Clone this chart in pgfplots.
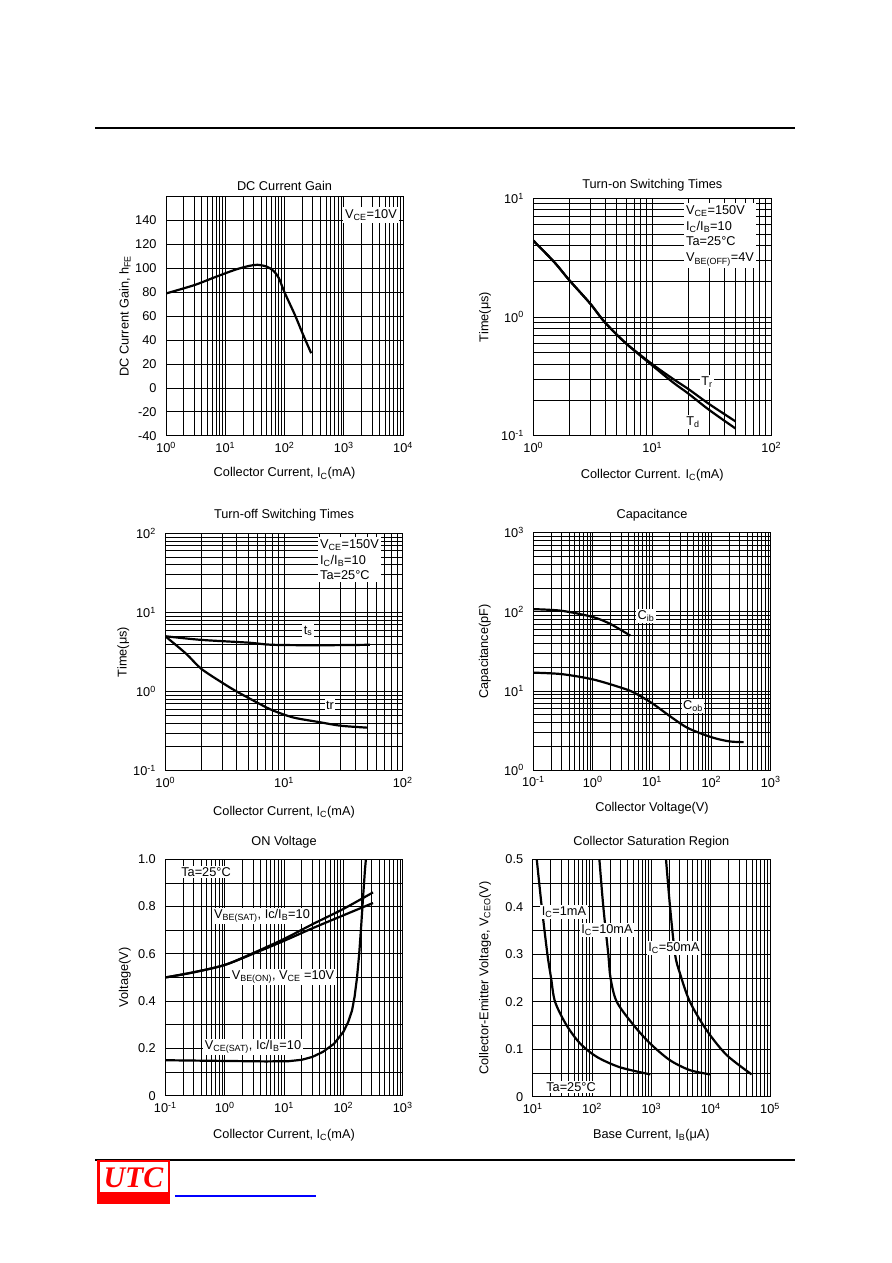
\documentclass[border=0pt]{standalone}
\usepackage{fontspec}
\setmainfont{Liberation Sans}
\newfontfamily\serifit{Liberation Serif}
\usepackage{pgfplots}
\pgfplotsset{compat=1.18}
\newcommand\lf{\fontsize{12.8}{14}\selectfont}
\newcommand\tf{\fontsize{12.8}{14}\selectfont}
\newcommand\sub[1]{\textsubscript{#1}}
\newcommand\sups[1]{\textsuperscript{#1}}
\pgfplotsset{
  every axis title shift=0pt,
  ds/.style={
    scale only axis, anchor=north west, width=237bp, height=237bp,
    grid=both,
    major grid style={black, line width=0.75bp},
    minor grid style={black, line width=0.75bp},
    axis line style={black, line width=0.9bp},
    major tick length=0pt, minor tick length=0pt,
    tick label style={font=\tf},
    xticklabel style={yshift=-3bp},
    yticklabel style={xshift=-6bp},
    label style={font=\lf},
    title style={font=\lf, anchor=center},
    every axis plot post/.append style={black, line width=2.2bp, mark=none},
    /pgf/number format/assume math mode=true,
    clip=true,
  }
}
\begin{document}
\begin{tikzpicture}[x=1bp,y=1bp]
\useasboundingbox[fill=white] (0,0) rectangle (892,1263);
% header rule
\draw[line width=2bp] (95,1263-128) -- (795,1263-128);

%================ DC Current Gain
\begin{axis}[ds, at={(166bp,1066.3bp)}, width=237bp, height=239bp,
  xmode=log, xmin=1, xmax=10000,
  ymin=-40, ymax=160,
  xtick={1,10,100,1000,10000},
  xticklabels={10\sups{0},10\sups{1},10\sups{2},10\sups{3},10\sups{4}},
  ytick={-40,-20,0,20,40,60,80,100,120,140,160},
  yticklabels={-40,-20,0,20,40,60,80,100,120,140,{}},
  minor y tick num=0,
  title={DC Current Gain}, title style={at={(axis description cs:0.5,1.046)}},
  xlabel={Collector Current, I\sub{C}(mA)}, xlabel style={at={(axis description cs:0.5,-0.159)},anchor=center},
  ylabel={DC Current Gain, h\sub{FE}}, ylabel style={at={(axis description cs:-0.173,0.5)},anchor=center},
]
\addplot[smooth] coordinates {(1,79) (3,86) (7,93) (15,99) (25,102) (35,103) (50,101.5) (65,98) (80,92) (100,80) (150,61) (200,46) (282,29)};
\end{axis}
\node[fill=white, inner sep=2bp, font=\lf] at (371,1263-215) {V\sub{CE}=10V};

%================ Turn-on Switching Times
\begin{axis}[ds, at={(533.3bp,1064.7bp)}, width=238bp, height=237.4bp,
  xmode=log, ymode=log, xmin=1, xmax=100, ymin=0.1, ymax=10,
  xtick={1,10,100}, xticklabels={10\sups{0},10\sups{1},10\sups{2}},
  ytick={0.1,1,10}, yticklabels={10\sups{-1},10\sups{0},10\sups{1}},
  title={Turn-on Switching Times}, title style={at={(axis description cs:0.5,1.055)}},
  xlabel={Collector Current. I\sub{C}(mA)}, xlabel style={at={(axis description cs:0.5,-0.165)},anchor=center},
  ylabel={Time(μs)}, ylabel style={at={(axis description cs:-0.203,0.5)},anchor=center},
]
\addplot[smooth] coordinates {(1,4.4) (1.5,2.9) (2,2.05) (3,1.3) (4,0.9) (6,0.6) (10,0.4) (15,0.3) (20,0.248) (30,0.185) (50,0.132)};
\addplot[smooth] coordinates {(1,4.4) (1.5,2.9) (2,2.05) (3,1.3) (4,0.9) (6,0.6) (10,0.39) (15,0.28) (20,0.227) (30,0.165) (50,0.115)};
\end{axis}
\node[fill=white, inner sep=2bp, anchor=north west, align=left, font=\lf] at (684,1263-203)
  {V\sub{CE}=150V\\[2bp]I\sub{C}/I\sub{B}=10\\[2bp]Ta=25°C\\[2bp]V\sub{BE(OFF)}=4V};
\node[fill=white, inner sep=1.5bp, font=\lf] at (707,1263-382) {T\sub{r}};
\node[fill=white, inner sep=1.5bp, font=\lf] at (693,1263-422) {T\sub{d}};

%================ Turn-off Switching Times
\begin{axis}[ds, at={(165.3bp,729.7bp)}, width=237.4bp, height=237.4bp,
  xmode=log, ymode=log, xmin=1, xmax=100, ymin=0.1, ymax=100,
  xtick={1,10,100}, xticklabels={10\sups{0},10\sups{1},10\sups{2}},
  ytick={0.1,1,10,100}, yticklabels={10\sups{-1},10\sups{0},10\sups{1},10\sups{2}},
  title={Turn-off Switching Times}, title style={at={(axis description cs:0.5,1.077)}},
  xlabel={Collector Current, I\sub{C}(mA)}, xlabel style={at={(axis description cs:0.5,-0.173)},anchor=center},
  ylabel={Time(μs)}, ylabel style={at={(axis description cs:-0.177,0.5)},anchor=center},
]
\addplot[smooth] coordinates {(1,5.0) (2,4.5) (5,4.15) (8,3.9) (20,3.85) (53,3.9)};
\addplot[smooth] coordinates {(1,5.0) (1.5,3.0) (2,1.95) (3,1.3) (4,1.0) (6,0.72) (8,0.58) (12,0.47) (20,0.41) (30,0.37) (50,0.35)};
\end{axis}
\node[fill=white, inner sep=2bp, anchor=north west, align=left, font=\lf] at (318,1263-537)
  {V\sub{CE}=150V\\[2bp]I\sub{C}/I\sub{B}=10\\[2bp]Ta=25°C};
\node[fill=white, inner sep=1.5bp, font=\lf] at (308,1263-631) {t\sub{s}};
\node[fill=white, inner sep=1.5bp, font=\lf] at (330,1263-705) {tr};

%================ Capacitance
\begin{axis}[ds, at={(533.3bp,730.3bp)}, width=237.4bp, height=237.3bp,
  xmode=log, ymode=log, xmin=0.1, xmax=1000, ymin=1, ymax=1000,
  xtick={0.1,1,10,100,1000}, xticklabels={10\sups{-1},10\sups{0},10\sups{1},10\sups{2},10\sups{3}},
  ytick={1,10,100,1000}, yticklabels={10\sups{0},10\sups{1},10\sups{2},10\sups{3}},
  title={Capacitance}, title style={at={(axis description cs:0.5,1.075)}},
  xlabel={Collector Voltage(V)}, xlabel style={at={(axis description cs:0.5,-0.162)},anchor=center},
  ylabel={Capacitance(pF)}, ylabel style={at={(axis description cs:-0.204,0.5)},anchor=center},
]
\addplot[smooth] coordinates {(0.1,108) (0.3,103) (1,86) (2,70) (4.3,50)};
\addplot[smooth] coordinates {(0.1,17) (0.3,16.3) (1,14) (3,11) (5,9.5) (10,7) (20,4.8) (40,3.4) (100,2.6) (200,2.3) (350,2.25)};
\end{axis}
\node[fill=white, inner sep=1.5bp, font=\lf] at (646,1263-616) {C\sub{ib}};
\node[fill=white, inner sep=1.5bp, font=\lf] at (693,1263-706) {C\sub{ob}};

%================ ON Voltage
\begin{axis}[ds, at={(165.3bp,403.7bp)}, width=237.4bp, height=236.4bp,
  xmode=log, xmin=0.1, xmax=1000, ymin=0, ymax=1.0,
  xtick={0.1,1,10,100,1000}, xticklabels={10\sups{-1},10\sups{0},10\sups{1},10\sups{2},10\sups{3}},
  ytick={0,0.2,0.4,0.6,0.8,1.0}, yticklabels={0,0.2,0.4,0.6,0.8,1.0},
  minor y tick num=1,
  title={ON Voltage}, title style={at={(axis description cs:0.5,1.074)}},
  xlabel={Collector Current, I\sub{C}(mA)}, xlabel style={at={(axis description cs:0.5,-0.166)},anchor=center},
  ylabel={Voltage(V)}, ylabel style={at={(axis description cs:-0.17,0.5)},anchor=center},
]
\addplot[smooth] coordinates {(0.1,0.50) (0.3,0.522) (1,0.553) (3,0.603) (10,0.663) (30,0.725) (100,0.79) (316,0.86)};
\addplot[smooth] coordinates {(0.1,0.50) (0.3,0.522) (1,0.553) (3,0.6) (10,0.655) (30,0.708) (100,0.763) (316,0.815)};
\addplot coordinates {(0.1,0.15) (1,0.147) (5,0.145) (12,0.146) (20,0.152) (30,0.164) (45,0.185) (70,0.22) (100,0.27) (120,0.31) (140,0.36) (155,0.42) (170,0.5) (185,0.6) (200,0.72) (215,0.84) (232,0.96) (250,1.05)};
\end{axis}
\node[fill=white, inner sep=1.5bp, font=\lf] at (206,1263-872) {Ta=25°C};
\node[fill=white, inner sep=1.5bp, font=\lf] at (262,1263-916) {V\sub{BE(SAT)}, Ic/I\sub{B}=10};
\node[fill=white, inner sep=1.5bp, font=\lf] at (283,1263-977) {V\sub{BE(ON)}, V\sub{CE} =10V};
\node[fill=white, inner sep=1.5bp, font=\lf] at (253,1263-1047) {V\sub{CE(SAT)}, Ic/I\sub{B}=10};

%================ Collector Saturation Region
\begin{axis}[ds, at={(532.7bp,403.7bp)}, width=237.3bp, height=237.4bp,
  xmode=log, xmin=10, xmax=100000, ymin=0, ymax=0.5,
  xtick={10,100,1000,10000,100000}, xticklabels={10\sups{1},10\sups{2},10\sups{3},10\sups{4},10\sups{5}},
  ytick={0,0.1,0.2,0.3,0.4,0.5}, yticklabels={0,0.1,0.2,0.3,0.4,0.5},
  minor y tick num=1,
  title={Collector Saturation Region}, title style={at={(axis description cs:0.5,1.074)}},
  xlabel={Base Current, I\sub{B}(μA)}, xlabel style={at={(axis description cs:0.5,-0.162)},anchor=center},
  ylabel={Collector-Emitter Voltage, V\sub{CEO}(V)}, ylabel style={at={(axis description cs:-0.201,0.5)},anchor=center},
]
\addplot[smooth] coordinates {(11.7,0.5) (14.2,0.4) (17.7,0.3) (20.4,0.25) (23.8,0.2) (37,0.151) (63,0.112) (120,0.084) (295,0.062) (960,0.047)};
\addplot[smooth] coordinates {(133,0.5) (155,0.4) (188,0.3) (205,0.25) (261,0.2) (500,0.151) (955,0.112) (2050,0.077) (4450,0.056) (9800,0.047)};
\addplot[smooth] coordinates {(1766,0.5) (2065,0.4) (2510,0.3) (3030,0.26) (4460,0.2) (8540,0.14) (18500,0.088) (49000,0.047)};
\end{axis}
\node[fill=white, inner sep=1.5bp, font=\lf] at (564,1263-912) {I\sub{C}=1mA};
\node[fill=white, inner sep=1.5bp, font=\lf] at (607,1263-930) {I\sub{C}=10mA};
\node[fill=white, inner sep=1.5bp, font=\lf] at (674,1263-948) {I\sub{C}=50mA};
\node[fill=white, inner sep=1.5bp, font=\lf] at (571,1263-1087) {Ta=25°C};

%================ footer
\draw[line width=2.5bp] (95,1263-1160) -- (795,1263-1160);
\fill[red] (97,1263-1204) rectangle (170,1263-1160);
\fill[white] (99.5,1263-1192) rectangle (167.5,1263-1162);
\node[text=red, font=\serifit\itshape\bfseries\fontsize{30}{30}\selectfont, inner sep=0] at (133.5,1263-1178) {UTC};
\draw[blue, line width=2bp] (175,1263-1196.5) -- (316,1263-1196.5);
\end{tikzpicture}
\end{document}
